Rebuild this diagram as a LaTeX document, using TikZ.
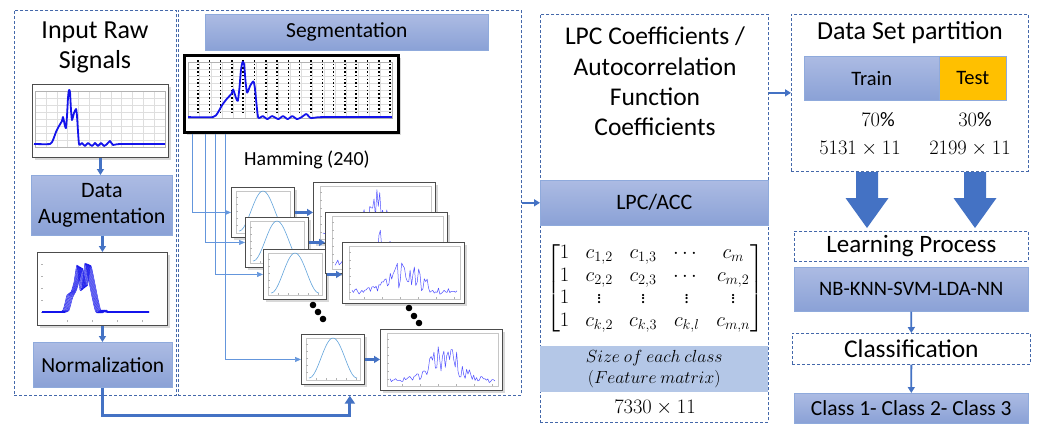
\RequirePackage{fix-cm}
\documentclass[tikz,border=0pt]{standalone}
\usepackage{amsmath}
\usepackage{fontspec}
\setmainfont{Carlito}
\usepackage{graphicx}
\usetikzlibrary{arrows.meta,shadows,calc}
\definecolor{boxtop}{RGB}{172,187,227}
\definecolor{boxbot}{RGB}{138,161,214}
\definecolor{boxedge}{RGB}{143,170,220}
\definecolor{dashblue}{RGB}{68,104,170}
\definecolor{arrblue}{RGB}{68,114,196}
\definecolor{thinblue}{RGB}{100,150,220}
\definecolor{sigblue}{RGB}{20,20,235}
\definecolor{specblue}{RGB}{80,80,255}
\definecolor{hannblue}{RGB}{100,165,220}
\definecolor{testorange}{RGB}{255,192,0}
\definecolor{sizefill}{RGB}{180,199,231}
\definecolor{gridgray}{RGB}{222,222,222}
\newcommand\smallvd{\raisebox{0.5pt}{\scalebox{0.9}{$\vdots$}}}
\tikzset{
  corner/.style={anchor=north west, inner sep=0pt},
  dashbox/.style={corner, draw=dashblue, line width=0.7pt, dash pattern=on 3pt off 2pt},
  bluebox/.style={corner, draw=boxedge, line width=0.6pt, top color=boxtop, bottom color=boxbot},
  plotbox/.style={corner, draw=black!70, line width=0.9pt, fill=white,
    drop shadow={opacity=0.3, shadow xshift=3pt, shadow yshift=-3pt}},
  thinarr/.style={draw=thinblue, line width=0.7pt, -{Triangle[length=6pt,width=5pt]}},
  midarr/.style={draw=arrblue, line width=2.2pt, -{Triangle[length=6pt,width=7pt]}},
  bigarr/.style={draw=arrblue, line width=3pt, -{Triangle[length=8pt,width=10pt]}},
  ttl/.style={inner sep=0pt, align=center, font=\fontsize{26}{30}\selectfont},
  tickline/.style={gray!60, line width=0.3pt},
  numtxt/.style={inner sep=0pt, font=\fontsize{20.5}{24}\selectfont}
}
\newcommand\hann[2]{%
  \node[plotbox, minimum width=63pt, minimum height=50pt] (#1) at #2 {};
  \begin{scope}[shift={(#1.north west)}]
    \draw[gray!45, line width=0.3pt] (5,4) rectangle (59,46);
    \foreach \t in {10,17,...,40} \draw[tickline] (5,\t) -- (7,\t);
    \foreach \t in {15,25,...,55} \draw[tickline] (\t,46) -- (\t,44);
    \draw[hannblue, line width=0.6pt] plot[domain=0:1, samples=40] ({8+48*\x},{44-40*pow(sin(180*\x),2)});
  \end{scope}}
\newcommand\spec[4]{%
  \node[plotbox, minimum width=122pt, minimum height=61pt] (#1) at #2 {};
  \begin{scope}[shift={(#1.north west)}]
    \draw[gray!45, line width=0.3pt] (7,4) rectangle (118,57);
    \foreach \t in {10,18,...,50} \draw[tickline] (7,\t) -- (9,\t);
    \foreach \t in {22,40,...,112} \draw[tickline] (\t,57) -- (\t,55);
    \pgfmathsetseed{#3}
    \draw[specblue, line width=0.5pt, line join=round] plot[domain=0:1, samples=75] ({10+105*\x},{54-47*max(0,(#4)*(0.7+0.45*rand)+0.025*rand)});
  \end{scope}}
\begin{document}
\begin{tikzpicture}[x=1pt,y=-1pt]
\fill[white] (0,0) rectangle (1037,426);
\useasboundingbox (0,0) rectangle (1037,426);

% containers
\node[dashbox, minimum width=162pt, minimum height=385pt] (box1) at (14,10) {};
\node[dashbox, minimum width=343pt, minimum height=385pt] (box2) at (178,10) {};
\node[dashbox, minimum width=228pt, minimum height=408pt] (box3) at (540,14) {};
\node[dashbox, minimum width=237pt, minimum height=157pt] (box4) at (791,14) {};

% ---------- column 1
\node[ttl] (title1) at (95,47) {Input Raw\\Signals};
\node[plotbox, minimum width=136pt, minimum height=73pt] (raw) at (32,84) {};
\begin{scope}[shift={(raw.north west)}]
  \foreach \i in {0,...,12} \draw[gridgray, line width=0.3pt] ({3+10.83*\i},7) -- ({3+10.83*\i},63);
  \foreach \j in {0,...,8} \draw[gridgray, line width=0.3pt] (3,{7+7*\j}) -- (133,{7+7*\j});
  \draw[gray!60, line width=0.4pt] (3,7) rectangle (133,63);
  \draw[sigblue, line width=1.8pt, line join=round] plot[smooth, tension=0.35] coordinates {(2,60) (18,60) (21,56) (24,48) (27,42) (30,37) (31,33) (33,42) (34,44) (35,32) (36,14) (37,6) (38,8) (39,26) (40,36) (42,29) (44,25) (45,32) (47,60) (50,59) (53,62) (56,59) (60,62) (63,59) (66,62) (69,59) (72,62) (75,60) (78,57) (81,61) (88,60) (133,60)};
\end{scope}
\node[bluebox, minimum width=141pt, minimum height=60pt, align=center, font=\fontsize{22}{26}\selectfont] (aug) at (31,175) {Data\\Augmentation};
\node[plotbox, minimum width=130pt, minimum height=73pt] (augplot) at (37,252) {};
\begin{scope}[shift={(augplot.north west)}]
  \foreach \t in {12,24,...,60} \draw[tickline] (4,\t) -- (6,\t);
  \foreach \t in {30,55,...,120} \draw[tickline] (\t,70) -- (\t,68);
  \foreach \s in {0,0.7,...,5.6}
    \draw[sigblue, line width=0.45pt, line join=round] plot[smooth, tension=0.35] coordinates {(5,60) ({24+\s},60) ({27+\s},{55+0.3*\s}) ({30+\s},{43+0.5*\s}) ({34+\s},{40-0.4*\s}) ({37+\s},{30-0.5*\s}) ({40+\s},{13+0.6*\s}) ({43+\s},{38-\s}) ({45+\s},{36-0.5*\s}) ({48+\s},{11+0.4*\s}) ({51+\s},25) ({55+\s},45) ({58+\s},58) ({60+\s},61) ({64+\s},58) ({68+\s},60) (112,60)};
  \draw[sigblue, line width=1.2pt] (5,60) -- (28,60) (70,60) -- (112,60);
\end{scope}
\node[bluebox, minimum width=139pt, minimum height=45pt, font=\fontsize{21.5}{25}\selectfont] (norm) at (33,342) {Normalization};
\draw[midarr] (raw.south) -- (raw.south |- aug.north);
\draw[midarr] (aug.south -| augplot.north) -- (augplot.north);
\draw[midarr] (augplot.south) -- (augplot.south |- norm.north);

% ---------- column 2
\node[bluebox, minimum width=283pt, minimum height=36pt, font=\fontsize{21.5}{25}\selectfont] (segbar) at (205,14) {Segmentation};
\node[plotbox, draw=black, line width=2.5pt, minimum width=214pt, minimum height=77pt] (segplot) at (183,54) {};
\begin{scope}[shift={(segplot.north west)}]
  \foreach \i in {0,...,18} \draw[gridgray, line width=0.3pt] ({5+11.33*\i},8) -- ({5+11.33*\i},64);
  \foreach \j in {0,...,8} \draw[gridgray, line width=0.3pt] (5,{8+7*\j}) -- (209,{8+7*\j});
  \draw[gray!60, line width=0.4pt] (5,8) rectangle (209,64);
  \foreach \i in {0,...,17} \draw[black, line width=1.5pt, dash pattern=on 1.5pt off 2.2pt] ({15+11.3*\i},6) -- ({15+11.3*\i},60);
\end{scope}
\begin{scope}[shift={(segplot.north west)}, shift={(1.9,1.9)}, xscale=1.557, yscale=1.02]
  \draw[sigblue, line width=1.8pt, line join=round] plot[smooth, tension=0.35] coordinates {(2,60) (18,60) (21,56) (24,48) (27,42) (30,37) (31,33) (33,42) (34,44) (35,32) (36,14) (37,6) (38,8) (39,26) (40,36) (42,29) (44,25) (45,32) (47,60) (50,59) (53,62) (56,59) (60,62) (63,59) (66,62) (69,59) (72,62) (75,60) (78,57) (81,61) (88,60) (133,60)};
\end{scope}
\node[inner sep=0pt, font=\fontsize{20}{24}\selectfont] (ham) at (307,160) {Hamming (240)};

\hann{w1}{(231,187)}
\hann{w2}{(245,217)}
\hann{w3}{(263,249)}
\spec{s1}{(313,182)}{11}{0.08+0.85*exp(-pow((\x-0.5)/0.13,2))}
\spec{s2}{(325,212)}{23}{0.1+0.8*exp(-pow((\x-0.45)/0.11,2))}
\spec{s3}{(342,242)}{37}{0.12+0.62*exp(-pow((\x-0.5)/0.2,2))}
\hann{w4}{(301,334)}
\spec{s4}{(380,329)}{58}{0.08+0.68*exp(-pow((\x-0.52)/0.2,2))}

\draw[thinarr] ([xshift=9pt]segplot.south west) |- (w1.west);
\draw[thinarr] ([xshift=22pt]segplot.south west) |- (w2.west);
\draw[thinarr] ([xshift=32pt]segplot.south west) |- (w3.west);
\draw[thinarr] ([xshift=42pt]segplot.south west) |- (w4.west);
\draw[midarr] (w1.east) -- (w1.east -| s1.west);
\draw[midarr] (w2.east) -- (w2.east -| s2.west);
\draw[midarr] (w3.east) -- (w3.east -| s3.west);
\draw[midarr] (w4.east) -- (w4.east -| s4.west);
\fill (313,305) circle[radius=3.3pt] (318,312) circle[radius=3.3pt] (323,319) circle[radius=3.3pt];
\fill (409,308) circle[radius=3.3pt] (414,316) circle[radius=3.3pt] (419,323) circle[radius=3.3pt];

\draw[bigarr] (norm.south) -- ++(0,28) -| (box2.south);

% ---------- column 3
\node[ttl, font=\fontsize{25.5}{30.3}\selectfont] (lpctitle) at (655,81.5) {LPC Coefficients /\\Autocorrelation\\Function\\Coefficients};
\node[bluebox, minimum width=228pt, minimum height=45pt, font=\fontsize{22}{25}\selectfont] (lpcacc) at (540,180) {LPC/ACC};
\node[inner sep=0pt, font=\fontsize{20.5}{22.5}\selectfont] (mat) at (655,288) {\setlength\arraycolsep{8pt}$\begin{bmatrix} 1 & c_{1,2} & c_{1,3} & \cdots & c_m \\ 1 & c_{2,2} & c_{2,3} & \cdots & c_{m,2} \\ 1 & \smallvd & \smallvd & \smallvd & \smallvd \\ 1 & c_{k,2} & c_{k,3} & c_{k,l} & c_{m,n} \end{bmatrix}$};
\node[corner, fill=sizefill, minimum width=228pt, minimum height=46pt, align=center, font=\fontsize{17.5}{21}\selectfont] (sizebox) at (540,346) {$Size\ of\ each\ class$\\$(Feature\ matrix)$};
\node[numtxt] (sizeval) at (655,408) {$7330\times 11$};
\draw[midarr] (box2.east |- lpcacc.west) -- (lpcacc.west);

% ---------- column 4
\node[inner sep=0pt, font=\fontsize{26}{30}\selectfont] (dsp) at (910,33) {Data Set partition};
\node[bluebox, minimum width=135pt, minimum height=44pt, font=\fontsize{20.5}{24}\selectfont] (train) at (804,56) {Train};
\node[corner, draw=boxedge, line width=0.6pt, fill=testorange, minimum width=67pt, minimum height=44pt, font=\fontsize{20.5}{24}\selectfont] (test) at (939,56) {Test};
\node[numtxt] (p70) at (878,120) {$70\%$};
\node[numtxt] (p30) at (975,120) {$30\%$};
\node[numtxt] (n1) at (860,149) {$5131\times 11$};
\node[numtxt] (n2) at (970,149) {$2199\times 11$};
\draw[midarr] (box3.east |- box4.west) -- (box4.west);

\coordinate (a1) at (867,172);
\coordinate (a2) at (975,172);
\foreach \c in {a1,a2}
  \fill[arrblue] ([xshift=-11pt]\c) -- ([xshift=11pt]\c) -- ([xshift=11pt,yshift=-26pt]\c) -- ([xshift=21.5pt,yshift=-26pt]\c) -- ([yshift=-56pt]\c) -- ([xshift=-21.5pt,yshift=-26pt]\c) -- ([xshift=-11pt,yshift=-26pt]\c) -- cycle;

\node[dashbox, minimum width=234pt, minimum height=30pt, font=\fontsize{25}{30}\selectfont] (learn) at (794,231) {Learning Process};
\node[bluebox, minimum width=234pt, minimum height=44pt, font=\fontsize{20.5}{24}\selectfont] (algs) at (794,267) {NB-KNN-SVM-LDA-NN};
\node[dashbox, minimum width=238pt, minimum height=31pt, font=\fontsize{25.5}{30}\selectfont] (classif) at (792,333) {Classification};
\node[bluebox, minimum width=234pt, minimum height=30pt, font=\fontsize{21.5}{24}\selectfont] (classes) at (794,393) {Class 1- Class 2- Class 3};
\draw[midarr, line width=1.8pt] (algs.south) -- (classif.north);
\draw[midarr, line width=1.8pt] (classif.south) -- (classes.north);
\end{tikzpicture}
\end{document}
